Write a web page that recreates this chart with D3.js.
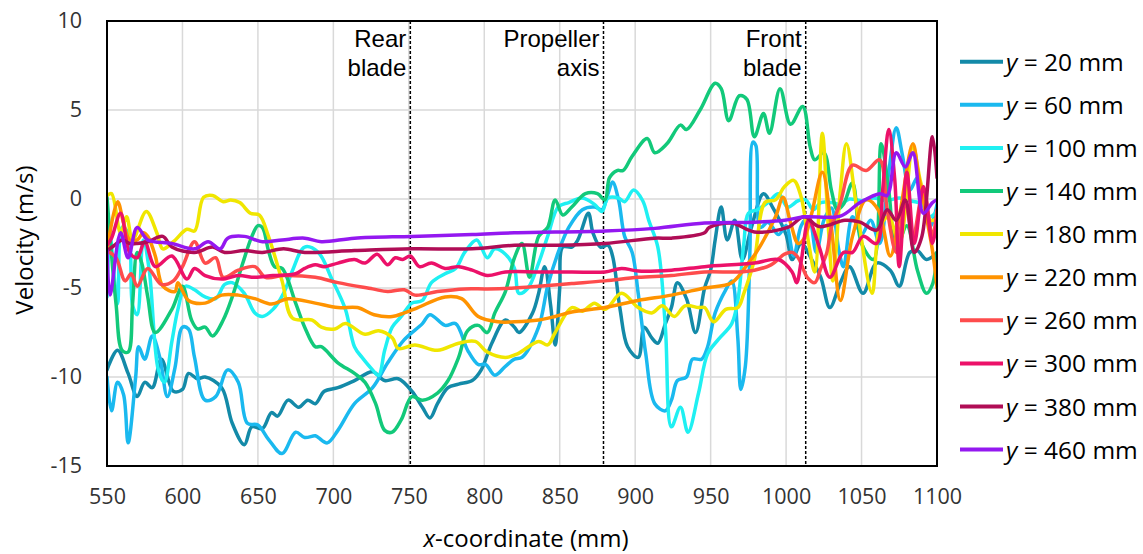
<!DOCTYPE html>
<html>
<head>
<meta charset="utf-8">
<script src="https://d3js.org/d3.v7.min.js"></script>
<style>
  body { margin: 0; background: #fff; }
  text { font-family: "Open Sans", "Liberation Sans", Arial, sans-serif; }
</style>
</head>
<body>
<div id="chart"></div>
<script>
// series labels (y position of the measuring line, mm)
var depths = [20, 60, 100, 140, 180, 220, 260, 300, 380, 460]
var colors = ["#138aa8", "#1ab9ef", "#1ff0f2", "#12c97a", "#f0e600", "#ff9300", "#fe4c4c", "#ec1169", "#b00d56", "#9418f0"]

// velocity along x: [x (mm), velocity (m/s)]
var s20 = [[550,-9.6],[557,-8.5],[564,-9.8],[570,-11.1],[575,-10.3],[580,-10.6],[586,-9.0],[594,-10.8],[600,-10.7],[604,-9.8],[610,-10.1],[615,-10.0],[626,-10.6],[633,-12.6],[641,-13.8],[646,-12.8],[653,-12.9],[659,-12.0],[663,-12.2],[670,-11.3],[677,-11.7],[683,-11.3],[688,-11.5],[694,-10.8],[703,-10.6],[714,-10.2],[726,-9.7],[734,-10.2],[743,-10.1],[752,-10.8],[759,-11.7],[764,-12.3],[769,-11.5],[776,-10.6],[783,-10.4],[792,-10.2],[798,-9.6],[805,-8.1],[814,-6.8],[820,-7.2],[823,-7.5],[832,-6.4],[836,-5.3],[840,-3.8],[844,-6.0],[847,-8.2],[850,-5.0],[852,-2.7],[858,-2.7],[862,-2.3],[869,-0.8],[872,-1.9],[877,-2.7],[882,-2.6],[885,-3.2],[890,-6.2],[895,-8.3],[902,-8.9],[906,-7.2],[911,-7.8],[915,-8.1],[920,-7.0],[924,-6.1],[928,-4.7],[934,-5.6],[940,-7.5],[946,-5.0],[950,-4.0],[953,-2.3],[957,-0.45],[961,-2.3],[966,-1.2],[971,-3.4],[977,-1.6],[985,0.3],[991,-0.45],[1000,-2.0],[1004,-3.4],[1010,-2.5],[1017,-3.4],[1023,-4.4],[1029,-6.1],[1036,-4.7],[1042,-3.8],[1051,-5.3],[1060,-3.6],[1069,-4.0],[1075,-4.9],[1082,-3.0],[1087,-2.9],[1093,-3.4],[1100,-3.0]]
var s60 = [[550,-10.0],[553,-11.9],[557,-10.3],[561,-11.0],[564,-13.7],[569,-10.0],[571,-8.3],[575,-9.0],[580,-7.7],[585,-8.9],[590,-11.1],[595,-9.5],[600,-7.2],[604,-7.3],[608,-8.9],[615,-11.3],[622,-11.1],[630,-9.6],[637,-10.3],[643,-12.6],[650,-12.7],[657,-13.5],[666,-14.3],[675,-13.1],[681,-13.4],[688,-13.3],[690,-13.4],[696,-13.7],[703,-13.0],[714,-11.5],[726,-10.6],[736,-9.2],[747,-7.9],[759,-7.0],[764,-6.5],[774,-7.1],[781,-7.0],[789,-8.5],[796,-9.3],[801,-9.3],[807,-9.9],[814,-9.4],[820,-9.0],[825,-8.9],[836,-7.2],[842,-4.9],[849,-3.0],[856,-1.6],[865,-0.6],[873,-0.45],[878,-0.6],[882,0.3],[885,0.95],[889,-0.05],[893,-2.1],[898,-3.0],[902,-5.3],[907,-8.7],[913,-11.5],[920,-11.9],[924,-11.3],[928,-10.2],[934,-10.0],[938,-9.0],[944,-9.0],[948,-8.3],[953,-6.4],[960,-5.1],[964,-4.6],[968,-7.8],[970,-10.7],[973,-9.4],[976,-3.0],[978,3.2],[980,3.0],[983,-1.6],[988,-1.3],[995,-2.0],[1000,-1.5],[1005,-3.2],[1010,-1.5],[1015,-1.0],[1020,-3.0],[1025,-1.2],[1030,-0.5],[1035,-2.9],[1038,-3.8],[1044,-1.0],[1050,-2.0],[1056,-1.2],[1062,-2.5],[1068,1.5],[1073,4.0],[1077,2.5],[1082,0.5],[1087,1.2],[1092,-0.2],[1096,-1.5],[1100,-0.3]]
var s100 = [[550,-5.5],[552,-2.1],[557,-5.9],[560,-1.6],[564,-1.9],[567,-6.0],[570,-6.5],[574,-2.3],[578,-4.0],[584,-9.6],[588,-10.3],[593,-8.0],[597,-6.2],[602,-4.9],[608,-5.1],[615,-5.5],[622,-5.6],[628,-4.8],[633,-4.7],[641,-5.3],[648,-6.4],[653,-6.6],[660,-6.2],[667,-5.3],[673,-4.0],[681,-2.7],[690,-3.0],[699,-4.5],[708,-6.2],[714,-8.3],[719,-8.9],[726,-9.6],[730,-9.9],[734,-8.5],[739,-7.2],[745,-6.6],[752,-5.85],[759,-5.7],[765,-4.7],[774,-4.2],[781,-3.9],[787,-3.0],[795,-2.3],[802,-3.3],[807,-2.8],[814,-3.1],[820,-3.9],[823,-5.3],[829,-5.0],[836,-3.6],[842,-2.1],[849,-0.45],[856,-0.2],[865,0.05],[873,-0.3],[878,-0.7],[882,0.05],[889,0.05],[893,-0.15],[899,0.5],[905,-0.1],[909,-1.2],[915,-2.7],[920,-7.2],[924,-12.8],[930,-11.7],[935,-13.1],[942,-10.9],[948,-8.7],[955,-7.9],[964,-7.0],[968,-5.7],[972,-2.5],[975,-0.8],[981,-0.6],[988,-0.2],[995,0.3],[1001,-0.45],[1008,-0.1],[1013,-0.05],[1018,-0.6],[1023,-0.2],[1030,-0.2],[1036,-0.3],[1042,0.0],[1050,-0.1],[1058,0.05],[1066,-0.1],[1075,0.05],[1082,-0.1],[1090,-0.3],[1095,-1.0],[1100,-0.7]]
var s140 = [[550,0.1],[552,-2.1],[556,-5.9],[560,-8.5],[564,-8.6],[567,-5.8],[570,-3.0],[573,-3.6],[577,-5.5],[582,-7.5],[593,-6.2],[600,-4.9],[606,-6.8],[610,-7.3],[615,-7.2],[620,-7.7],[627,-6.8],[633,-5.5],[640,-3.6],[646,-2.1],[650,-1.5],[653,-1.6],[657,-2.9],[661,-3.8],[666,-3.9],[675,-5.85],[681,-7.2],[688,-8.3],[692,-8.3],[703,-9.2],[714,-9.8],[721,-10.3],[728,-11.5],[734,-13.0],[739,-13.1],[745,-12.4],[752,-11.1],[759,-11.3],[769,-10.9],[776,-10.2],[783,-8.9],[789,-7.4],[796,-7.1],[802,-7.5],[807,-6.4],[814,-5.2],[820,-3.3],[825,-2.5],[830,-4.4],[836,-2.1],[842,-1.6],[847,-0.05],[852,-0.9],[858,-0.45],[867,0.3],[875,0.3],[880,-0.05],[883,1.2],[888,1.6],[892,1.6],[898,2.4],[908,3.4],[913,2.6],[921,3.1],[930,4.15],[934,3.9],[943,5.0],[953,6.5],[957,6.2],[962,4.4],[969,5.8],[974,5.6],[979,3.5],[985,4.8],[989,3.7],[996,6.2],[1003,4.2],[1011,5.2],[1016,2.9],[1019,2.2],[1025,2.6],[1030,0.5],[1034,-0.6],[1038,-0.3],[1044,0.9],[1050,-2.5],[1058,-3.4],[1063,3.1],[1068,0.5],[1073,-2.8],[1080,-1.5],[1087,-4.0],[1093,-5.3],[1097,-4.8],[1100,-3.0]]
var s180 = [[550,0.2],[553,0.3],[559,-1.9],[563,-1.0],[567,-2.3],[576,-0.7],[583,-1.9],[587,-2.8],[594,-2.4],[603,-1.7],[608,-1.8],[614,0.1],[620,0.2],[627,-0.15],[632,-0.05],[638,-0.2],[645,-0.8],[651,-0.9],[657,-2.1],[666,-4.6],[673,-6.7],[686,-6.8],[692,-7.2],[701,-7.3],[708,-7.0],[721,-7.6],[730,-7.4],[739,-7.8],[743,-8.4],[754,-8.2],[769,-8.5],[783,-8.1],[794,-8.0],[802,-8.6],[814,-8.9],[822,-8.7],[836,-8.0],[842,-8.2],[847,-7.5],[858,-6.1],[865,-6.3],[873,-5.85],[880,-6.2],[891,-5.3],[902,-6.1],[911,-6.4],[918,-6.0],[926,-6.6],[933,-6.0],[942,-6.1],[946,-6.1],[952,-6.9],[960,-6.2],[968,-6.1],[972,-5.3],[979,-3.4],[986,-0.2],[993,-0.05],[999,0.7],[1005,1.05],[1010,0.1],[1015,-2.5],[1019,-4.1],[1024,3.7],[1028,-1.6],[1031,-4.6],[1036,0.5],[1040,3.1],[1047,-0.6],[1057,-5.3],[1062,-1.6],[1068,-1.0],[1075,-2.5],[1084,2.9],[1089,1.0],[1096,-1.2],[1100,-1.1]]
var s220 = [[550,-2.9],[557,-0.15],[561,-1.35],[565,-2.3],[570,-2.3],[574,-1.9],[577,-2.1],[582,-3.2],[587,-4.9],[595,-5.2],[597,-4.7],[604,-5.7],[615,-5.85],[626,-5.4],[637,-5.4],[648,-5.6],[659,-5.9],[670,-5.6],[688,-5.85],[703,-6.1],[716,-6.1],[727,-6.5],[739,-6.6],[747,-6.4],[756,-6.1],[774,-5.5],[785,-5.6],[796,-6.6],[809,-6.9],[820,-6.9],[836,-6.8],[847,-6.6],[858,-6.35],[880,-6.1],[902,-5.7],[924,-5.4],[946,-5.0],[964,-4.7],[975,-3.6],[981,-2.9],[993,-1.0],[998,0.1],[1003,-1.35],[1008,-2.5],[1012,-2.2],[1017,-0.8],[1024,1.5],[1030,-1.6],[1036,-5.7],[1044,-2.1],[1053,-0.05],[1061,-0.6],[1069,-3.2],[1075,-1.0],[1084,3.1],[1088,1.2],[1097,-2.9],[1100,-5.0]]
var s260 = [[550,-2.9],[556,-3.3],[562,-4.6],[566,-4.2],[570,-4.9],[577,-3.9],[586,-4.8],[594,-4.6],[600,-3.8],[608,-2.4],[615,-3.6],[622,-3.3],[627,-4.4],[637,-4.0],[648,-3.8],[655,-4.4],[667,-4.3],[688,-4.4],[703,-4.7],[726,-5.05],[736,-5.2],[747,-5.1],[754,-5.4],[769,-5.2],[787,-5.05],[802,-5.05],[820,-5.0],[836,-4.9],[858,-4.75],[880,-4.6],[902,-4.4],[924,-4.3],[946,-4.1],[968,-4.1],[979,-4.0],[990,-3.7],[999,-3.1],[1004,-3.0],[1008,-3.3],[1014,-4.4],[1019,-4.7],[1023,-3.9],[1027,-3.0],[1030,-1.6],[1036,-0.2],[1044,1.9],[1053,1.6],[1062,2.2],[1067,-0.6],[1073,-3.0],[1079,-0.2],[1084,-2.1],[1091,0.5],[1097,-2.1],[1100,-0.6]]
var s300 = [[550,-2.6],[553,-2.2],[559,-0.8],[565,-3.0],[570,-3.3],[575,-2.4],[582,-3.8],[593,-3.2],[603,-4.5],[608,-3.9],[615,-4.3],[626,-4.5],[637,-4.3],[648,-4.4],[660,-4.3],[675,-4.2],[681,-3.9],[688,-3.7],[694,-3.8],[703,-3.6],[714,-3.4],[721,-3.6],[729,-3.1],[736,-3.7],[741,-3.3],[746,-3.4],[751,-3.2],[757,-3.8],[765,-3.6],[774,-3.9],[783,-3.8],[792,-4.0],[802,-4.3],[814,-4.1],[836,-4.1],[858,-4.1],[880,-4.1],[891,-3.9],[902,-4.05],[924,-4.0],[946,-3.8],[979,-3.6],[995,-3.4],[1004,-4.1],[1007,-4.7],[1010,-3.5],[1015,-1.2],[1022,-2.7],[1029,-4.4],[1038,-3.0],[1044,-3.0],[1051,-2.1],[1060,-2.5],[1064,0.5],[1068,3.9],[1072,1.1],[1075,-3.8],[1080,1.5],[1085,-2.5],[1091,0.7],[1097,-2.5],[1100,-1.2]]
var s380 = [[550,-2.9],[555,-2.6],[560,-2.3],[565,-2.5],[570,-2.5],[577,-2.4],[587,-2.1],[593,-2.7],[608,-3.0],[620,-2.7],[628,-3.0],[641,-2.9],[653,-3.0],[667,-2.8],[681,-3.0],[714,-2.9],[752,-2.8],[792,-2.8],[820,-2.6],[848,-2.6],[880,-2.5],[913,-2.2],[924,-2.2],[946,-1.9],[949,-1.6],[964,-1.35],[979,-1.85],[1001,-1.6],[1012,-1.0],[1022,-1.55],[1039,-1.2],[1049,-1.3],[1060,-1.75],[1067,-0.6],[1073,-1.2],[1079,-0.05],[1085,-3.0],[1090,-2.1],[1097,3.5],[1100,1.2]]
var s460 = [[550,-2.9],[552,-5.4],[559,-1.9],[564,-3.3],[570,-1.6],[577,-2.3],[593,-2.5],[608,-2.8],[617,-2.4],[625,-2.8],[630,-2.2],[641,-2.1],[653,-2.4],[666,-2.3],[681,-2.2],[692,-2.4],[714,-2.2],[752,-2.1],[792,-2.0],[820,-1.9],[880,-1.8],[913,-1.65],[946,-1.35],[979,-1.3],[999,-1.2],[1012,-1.0],[1036,-0.96],[1049,-0.2],[1062,0.3],[1067,0.2],[1073,2.6],[1079,1.8],[1084,2.6],[1091,-0.8],[1097,-0.2],[1100,-0.05]]
var allSeries = [s20, s60, s100, s140, s180, s220, s260, s300, s380, s460]

// axis ticks
var xTicks = [550, 600, 650, 700, 750, 800, 850, 900, 950, 1000, 1050, 1100]
var yTicks = [-15, -10, -5, 0, 5, 10]

// propeller reference positions (mm) and their labels
var markerX = [751, 879, 1013]
var markerLabels = [["Rear", "blade"], ["Propeller", "axis"], ["Front", "blade"]]

// dimensions du graphique
var width = 1143
var height = 554
var pLeft = 107, pTop = 21, pRight = 937, pBottom = 466

var svg = d3.select("#chart")
  .append("svg")
    .attr("width", width)
    .attr("height", height)

var x = d3.scaleLinear().domain([550, 1100]).range([pLeft, pRight])
var y = d3.scaleLinear().domain([-15, 10]).range([pBottom, pTop])

// gridlines
svg.append("g")
  .selectAll("line")
  .data(xTicks)
  .enter()
  .append("line")
    .attr("x1", function(d){ return x(d) })
    .attr("x2", function(d){ return x(d) })
    .attr("y1", pTop)
    .attr("y2", pBottom)
    .attr("stroke", "#d9d9d9")
    .attr("stroke-width", 1.5)

svg.append("g")
  .selectAll("line")
  .data(yTicks)
  .enter()
  .append("line")
    .attr("x1", pLeft)
    .attr("x2", pRight)
    .attr("y1", function(d){ return y(d) })
    .attr("y2", function(d){ return y(d) })
    .attr("stroke", "#d9d9d9")
    .attr("stroke-width", 1.5)

// axes (labels only)
var xAxis = svg.append("g")
  .attr("transform", "translate(0," + pBottom + ")")
  .call(d3.axisBottom(x).tickValues(xTicks).tickSize(0).tickPadding(23).tickFormat(function(d){ return String(d) }))
xAxis.select(".domain").remove()
xAxis.selectAll("text")
  .style("font-family", "'Open Sans', sans-serif")
  .style("font-size", "21.5px")
  .attr("fill", "#333")

var yAxis = svg.append("g")
  .attr("transform", "translate(" + pLeft + ",0)")
  .call(d3.axisLeft(y).tickValues(yTicks).tickSize(0).tickPadding(25).tickFormat(function(d){ return String(d) }))
yAxis.select(".domain").remove()
yAxis.selectAll("text")
  .style("font-family", "'Open Sans', sans-serif")
  .style("font-size", "21.5px")
  .attr("fill", "#333")

// clip
svg.append("clipPath")
  .attr("id", "clip")
  .append("rect")
    .attr("x", pLeft)
    .attr("y", pTop)
    .attr("width", pRight - pLeft)
    .attr("height", pBottom - pTop)

// dashed reference lines
svg.append("g")
  .selectAll("line")
  .data(markerX)
  .enter()
  .append("line")
    .attr("x1", function(d){ return x(d) })
    .attr("x2", function(d){ return x(d) })
    .attr("y1", pTop)
    .attr("y2", pBottom)
    .attr("stroke", "#000")
    .attr("stroke-width", 1.5)
    .attr("stroke-dasharray", "3,2")

// reference labels, two lines each, right aligned against the dashed line
markerX.forEach(function(m, i) {
  markerLabels[i].forEach(function(s, j) {
    svg.append("text")
      .attr("x", x(m) - 4)
      .attr("y", 47 + j * 28.5)
      .attr("text-anchor", "end")
      .style("font-family", "'Liberation Sans', Arial, sans-serif")
      .style("font-size", "24px")
      .attr("fill", "#000")
      .text(s)
  })
})

// series lines
var line = d3.line()
  .x(function(d){ return x(d[0]) })
  .y(function(d){ return y(d[1]) })
  .curve(d3.curveCatmullRom.alpha(0.5))

svg.append("g")
  .attr("clip-path", "url(#clip)")
  .selectAll("path")
  .data(allSeries)
  .enter()
  .append("path")
    .attr("d", line)
    .attr("fill", "none")
    .attr("stroke", function(d, i){ return colors[i] })
    .attr("stroke-width", 3.5)
    .attr("stroke-linejoin", "round")
    .attr("stroke-linecap", "round")

// plot border
svg.append("rect")
  .attr("x", pLeft)
  .attr("y", pTop)
  .attr("width", pRight - pLeft)
  .attr("height", pBottom - pTop)
  .attr("fill", "none")
  .attr("stroke", "#000")
  .attr("stroke-width", 2)

// axis titles
svg.append("text")
  .attr("transform", "translate(33,240) rotate(-90)")
  .attr("text-anchor", "middle")
  .style("font-size", "24px")
  .attr("fill", "#000")
  .text("Velocity (m/s)")

var xt = svg.append("text")
  .attr("x", 526)
  .attr("y", 547)
  .attr("text-anchor", "middle")
  .style("font-size", "24px")
  .attr("fill", "#000")
xt.append("tspan").style("font-style", "italic").text("x")
xt.append("tspan").text("-coordinate (mm)")

// legend
var legend = svg.append("g")
  .selectAll("g")
  .data(depths)
  .enter()
  .append("g")
    .attr("transform", function(d, i){ return "translate(0," + (61.7 + i * 43.1) + ")" })

legend.append("line")
  .attr("x1", 960)
  .attr("x2", 1003)
  .attr("stroke", function(d, i){ return colors[i] })
  .attr("stroke-width", 4)

var lt = legend.append("text")
  .attr("x", 1006)
  .attr("y", 9)
  .style("font-size", "24.5px")
  .attr("fill", "#000")
lt.append("tspan").style("font-style", "italic").text("y")
lt.append("tspan").text(function(d){ return " = " + d + " mm" })
</script>
</body>
</html>
